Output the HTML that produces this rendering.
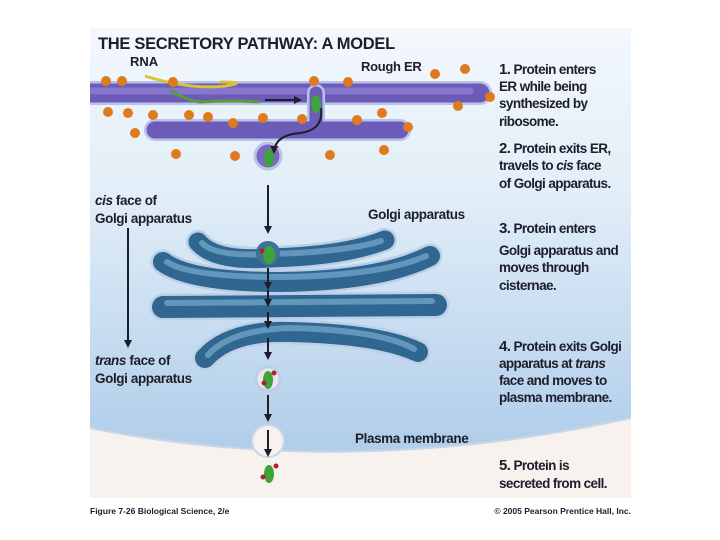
<!DOCTYPE html>
<html><head><meta charset="utf-8"><style>
html,body{margin:0;padding:0;background:#fff;}
svg{display:block;}
text{font-family:"Liberation Sans",sans-serif;font-weight:bold;fill:#1d1d2b;}
</style></head><body>
<svg width="720" height="540" viewBox="0 0 720 540" xmlns="http://www.w3.org/2000/svg">
<defs>
<linearGradient id="bg" x1="0" y1="0" x2="0" y2="1">
<stop offset="0" stop-color="#f3f8fc"/><stop offset="0.35" stop-color="#e2eef8"/><stop offset="1" stop-color="#a6c7e7"/>
</linearGradient>
<clipPath id="pc"><rect x="90" y="28" width="541" height="470"/></clipPath>
<marker id="ah" markerWidth="8" markerHeight="8" refX="6" refY="4" orient="auto" markerUnits="userSpaceOnUse">
<path d="M0,0 L8,4 L0,8 z" fill="#1d1d2b"/></marker>
</defs>
<rect x="90" y="28" width="541" height="470" fill="url(#bg)"/>
<path d="M90,428 Q350,480 631,418 L631,498 L90,498 Z" fill="#f7f2ee"/>
<path d="M90,428 Q350,480 631,418" fill="none" stroke="#c9d6e6" stroke-width="2"/>
<circle cx="268" cy="441" r="16" fill="#f7f2ee" stroke="#c9d6e6" stroke-width="2"/>

<text x="98" y="49" font-size="16.5" letter-spacing="-0.3">THE SECRETORY PATHWAY: A MODEL</text>
<text x="130" y="66" font-size="13">RNA</text>
<text x="361" y="71" font-size="13" letter-spacing="-0.3">Rough ER</text>

<!-- ER -->
<g stroke-linecap="round" fill="none" clip-path="url(#pc)">
<path d="M70,93 L480,93" stroke="#b9c3ea" stroke-width="24"/>
<path d="M70,93 L480,93" stroke="#6c5bb8" stroke-width="19"/>
<path d="M70,91 L470,91" stroke="#8676cc" stroke-width="7"/>
<path d="M155,130 L400,130" stroke="#b9c3ea" stroke-width="22"/>
<path d="M316,93 L316,130" stroke="#b9c3ea" stroke-width="18"/>
<path d="M155,130 L400,130" stroke="#6c5bb8" stroke-width="17"/>
<path d="M316,93 L316,130" stroke="#6c5bb8" stroke-width="13"/>
</g>
<circle cx="268" cy="156" r="13" fill="#7a68c0" stroke="#b9c3ea" stroke-width="3"/>
<path d="M145,76 Q190,90 225,86 Q250,82 220,82" stroke="#d8c23a" stroke-width="3" fill="none"/>
<path d="M170,90 Q185,100 200,102 Q230,100 260,102" stroke="#5c9a3a" stroke-width="3" fill="none"/>
<!-- ribosomes -->
<g fill="#e07a1e">
<circle cx="106" cy="81" r="5"/><circle cx="122" cy="81" r="5"/><circle cx="173" cy="82" r="5"/><circle cx="314" cy="81" r="5"/><circle cx="348" cy="82" r="5"/><circle cx="435" cy="74" r="5"/><circle cx="465" cy="69" r="5"/><circle cx="490" cy="97" r="5"/><circle cx="458" cy="106" r="5"/>
<circle cx="108" cy="112" r="5"/><circle cx="128" cy="113" r="5"/><circle cx="153" cy="115" r="5"/><circle cx="189" cy="115" r="5"/><circle cx="208" cy="117" r="5"/><circle cx="233" cy="123" r="5"/><circle cx="263" cy="118" r="5"/><circle cx="302" cy="119" r="5"/><circle cx="357" cy="120" r="5"/><circle cx="382" cy="113" r="5"/><circle cx="408" cy="127" r="5"/>
<circle cx="135" cy="133" r="5"/><circle cx="176" cy="154" r="5"/><circle cx="235" cy="156" r="5"/><circle cx="330" cy="155" r="5"/><circle cx="384" cy="150" r="5"/>
</g>
<path d="M265,100 L300,100" stroke="#1d1d2b" stroke-width="2" marker-end="url(#ah)"/>
<path d="M321,108 Q324,130 300,133 Q275,135 274,152" stroke="#1d1d2b" stroke-width="2" fill="none" marker-end="url(#ah)"/>
<ellipse cx="316" cy="104" rx="5" ry="9" fill="#3da33a"/>
<ellipse cx="269" cy="158" rx="5" ry="9" fill="#3da33a"/>

<!-- Golgi -->
<g stroke-linecap="round" fill="none">
<path d="M198,242 Q215,262 270,258 Q345,256 385,240" stroke="#bccfe9" stroke-width="24"/>
<path d="M163,262 Q190,282 280,282 Q380,281 430,256" stroke="#bccfe9" stroke-width="25"/>
<path d="M163,307 L436,305" stroke="#bccfe9" stroke-width="27"/>
<path d="M205,358 Q230,330 290,332 Q380,334 418,352" stroke="#bccfe9" stroke-width="25"/>
<path d="M198,242 Q215,262 270,258 Q345,256 385,240" stroke="#2f6790" stroke-width="19"/>
<path d="M163,262 Q190,282 280,282 Q380,281 430,256" stroke="#2f6790" stroke-width="20"/>
<path d="M163,307 L436,305" stroke="#2f6790" stroke-width="22"/>
<path d="M205,358 Q230,330 290,332 Q380,334 418,352" stroke="#2f6790" stroke-width="20"/>
<path d="M202,243 Q215,257 270,254 Q345,252 381,241" stroke="#6396bb" stroke-width="6"/>
<path d="M167,262 Q190,277 280,277 Q380,276 426,256" stroke="#6396bb" stroke-width="6"/>
<path d="M167,303 L432,301" stroke="#6396bb" stroke-width="6"/>
<path d="M208,355 Q230,330 290,328 Q380,330 414,349" stroke="#6396bb" stroke-width="6"/>
</g>
<circle cx="268" cy="253" r="12" fill="#3c739b"/>
<ellipse cx="269" cy="255" rx="6" ry="9" fill="#3da33a"/>
<circle cx="262" cy="251" r="2.5" fill="#b0232a"/>
<circle cx="268" cy="379" r="12" fill="#ece4ef" stroke="#bccfe9" stroke-width="3"/>
<ellipse cx="268" cy="380" rx="5" ry="9" fill="#3da33a"/>
<circle cx="274" cy="373" r="2.5" fill="#b0232a"/><circle cx="264" cy="383" r="2.5" fill="#b0232a"/>
<ellipse cx="269" cy="474" rx="5" ry="9" fill="#3da33a"/>
<circle cx="276" cy="466" r="2.5" fill="#b0232a"/><circle cx="263" cy="477" r="2.5" fill="#b0232a"/>

<!-- vertical arrows -->
<g stroke="#1d1d2b" stroke-width="2" marker-end="url(#ah)">
<line x1="268" y1="185" x2="268" y2="232"/>
<line x1="268" y1="268" x2="268" y2="288"/>
<line x1="268" y1="290" x2="268" y2="305"/>
<line x1="268" y1="312" x2="268" y2="327"/>
<line x1="268" y1="338" x2="268" y2="358"/>
<line x1="268" y1="395" x2="268" y2="420"/>
<line x1="268" y1="430" x2="268" y2="455"/>
<line x1="128" y1="228" x2="128" y2="346"/>
</g>

<g font-size="13.5" letter-spacing="-0.4">
<text x="95" y="205"><tspan font-style="italic">cis</tspan> face of</text>
<text x="95" y="223">Golgi apparatus</text>
<text x="95" y="365"><tspan font-style="italic">trans</tspan> face of</text>
<text x="95" y="383">Golgi apparatus</text>
<text x="368" y="219">Golgi apparatus</text>
<text x="355" y="443">Plasma membrane</text>
</g>
<g font-size="13.5" letter-spacing="-0.6">
<text x="499" y="74"><tspan font-size="15">1.</tspan> Protein enters</text>
<text x="499" y="91">ER while being</text>
<text x="499" y="108">synthesized by</text>
<text x="499" y="126">ribosome.</text>
<text x="499" y="153"><tspan font-size="15">2.</tspan> Protein exits ER,</text>
<text x="499" y="170">travels to <tspan font-style="italic">cis</tspan> face</text>
<text x="499" y="188">of Golgi apparatus.</text>
<text x="499" y="233"><tspan font-size="15">3.</tspan> Protein enters</text>
<text x="499" y="255">Golgi apparatus and</text>
<text x="499" y="272">moves through</text>
<text x="499" y="290">cisternae.</text>
<text x="499" y="351"><tspan font-size="15">4.</tspan> Protein exits Golgi</text>
<text x="499" y="368">apparatus at <tspan font-style="italic">trans</tspan></text>
<text x="499" y="385">face and moves to</text>
<text x="499" y="402">plasma membrane.</text>
<text x="499" y="470"><tspan font-size="15">5.</tspan> Protein is</text>
<text x="499" y="488">secreted from cell.</text>
</g>
<text x="90" y="514" font-size="8.5">Figure 7-26   Biological Science, 2/e</text>
<text x="631" y="514" font-size="8.5" text-anchor="end">© 2005 Pearson Prentice Hall, Inc.</text>
</svg>
</body></html>
